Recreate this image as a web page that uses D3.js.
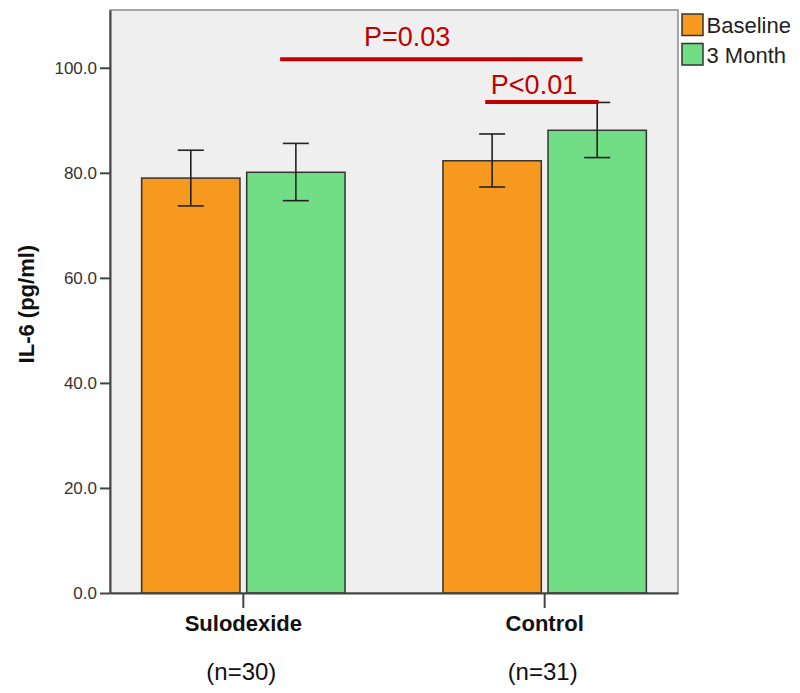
<!DOCTYPE html>
<html>
<head>
<meta charset="utf-8">
<script src="https://cdn.jsdelivr.net/npm/d3@7"></script>
<style>
  body { margin: 0; background: #fff; }
  svg { font-family: "Liberation Sans", Arial, sans-serif; }
</style>
</head>
<body>
<div id="chart"></div>
<script>
const groups = ["Sulodexide", "Control"];
const groupN = ["(n=30)", "(n=31)"];
const series = ["Baseline", "3 Month"];
const baselineMean = [79.0, 82.3];
const baselineLow = [73.7, 77.3];
const baselineHigh = [84.3, 87.4];
const monthMean = [80.1, 88.1];
const monthLow = [74.7, 82.9];
const monthHigh = [85.6, 93.4];
const yTicks = [0, 20, 40, 60, 80, 100];
const colors = ["#F7991F", "#71DD85"];

// significance brackets: bar to bar, fraction along each bar
const sigLabels = ["P=0.03", "P<0.01"];
const sigFrom = [["Sulodexide", "3 Month", 0.34], ["Control", "Baseline", 0.43]];
const sigTo = [["Control", "3 Month", 0.35], ["Control", "3 Month", 0.515]];
const sigLineY = [101.6, 93.5];
const sigTextY = [104.1, 95.0];
const sigTextPos = [0.42, 0.43];

const width = 800, height = 693;
const margin = { top: 10, right: 122, bottom: 100, left: 110 };

const svg = d3.select("#chart").append("svg")
    .attr("width", width)
    .attr("height", height);

const x = d3.scaleBand()
    .domain(groups)
    .range([margin.left, width - margin.right])
    .paddingInner(0.325)
    .paddingOuter(0.105);

const xs = d3.scaleBand()
    .domain(series)
    .range([0, x.bandwidth()])
    .paddingInner(0.064);

const y = d3.scaleLinear()
    .domain([0, 111])
    .range([height - margin.bottom, margin.top]);

const rows = [];
groups.forEach(function (g, i) {
    rows.push({ g: g, s: "Baseline", v: baselineMean[i], lo: baselineLow[i], hi: baselineHigh[i] });
    rows.push({ g: g, s: "3 Month", v: monthMean[i], lo: monthLow[i], hi: monthHigh[i] });
});

// plot background + frame
svg.append("rect")
    .attr("x", margin.left)
    .attr("y", margin.top)
    .attr("width", width - margin.right - margin.left)
    .attr("height", height - margin.bottom - margin.top)
    .attr("fill", "#efefef")
    .attr("stroke", "#8a8a8a")
    .attr("stroke-width", 1.5);

// bars
svg.append("g")
    .selectAll("rect")
    .data(rows)
    .join("rect")
    .attr("x", function (d) { return x(d.g) + xs(d.s); })
    .attr("y", function (d) { return y(d.v); })
    .attr("width", xs.bandwidth())
    .attr("height", function (d) { return y(0) - y(d.v); })
    .attr("fill", function (d) { return colors[series.indexOf(d.s)]; })
    .attr("stroke", "#333")
    .attr("stroke-width", 1.5);

// error bars
const eb = svg.append("g")
    .attr("stroke", "#222")
    .attr("stroke-width", 1.6)
    .selectAll("g")
    .data(rows)
    .join("g")
    .attr("transform", function (d) { return "translate(" + (x(d.g) + xs(d.s) + xs.bandwidth() / 2) + ",0)"; });
eb.append("line")
    .attr("y1", function (d) { return y(d.lo); })
    .attr("y2", function (d) { return y(d.hi); });
eb.append("line")
    .attr("x1", -13).attr("x2", 13)
    .attr("y1", function (d) { return y(d.hi); })
    .attr("y2", function (d) { return y(d.hi); });
eb.append("line")
    .attr("x1", -13).attr("x2", 13)
    .attr("y1", function (d) { return y(d.lo); })
    .attr("y2", function (d) { return y(d.lo); });

// y axis
const yAxis = svg.append("g")
    .attr("transform", "translate(" + margin.left + ",0)")
    .call(d3.axisLeft(y).tickValues(yTicks).tickFormat(d3.format(".1f")).tickSize(10).tickSizeOuter(0).tickPadding(3));
yAxis.select(".domain").attr("stroke", "#444").attr("stroke-width", 2);
yAxis.selectAll(".tick line").attr("stroke", "#444").attr("stroke-width", 2);
yAxis.selectAll(".tick text")
    .attr("font-size", 17)
    .attr("font-family", "Liberation Sans, Arial, sans-serif")
    .attr("fill", "#333");

// x axis
const xAxis = svg.append("g")
    .attr("transform", "translate(0," + y(0) + ")")
    .call(d3.axisBottom(x).tickSize(15).tickSizeOuter(0).tickPadding(7));
xAxis.select(".domain").attr("stroke", "#444").attr("stroke-width", 2);
xAxis.selectAll(".tick line").attr("stroke", "#444").attr("stroke-width", 2);
xAxis.selectAll(".tick text")
    .attr("font-size", 22)
    .attr("font-weight", "bold")
    .attr("font-family", "Liberation Sans, Arial, sans-serif")
    .attr("fill", "#111");

// n labels
svg.append("g")
    .selectAll("text")
    .data(groups)
    .join("text")
    .attr("x", function (d) { return x(d) + x.bandwidth() / 2 - 2; })
    .attr("y", 680)
    .attr("text-anchor", "middle")
    .attr("font-size", 24)
    .attr("fill", "#111")
    .text(function (d, i) { return groupN[i]; });

// y axis title
svg.append("text")
    .attr("transform", "translate(34," + (y(55)) + ") rotate(-90)")
    .attr("text-anchor", "middle")
    .attr("font-size", 22)
    .attr("font-weight", "bold")
    .attr("fill", "#111")
    .text("IL-6 (pg/ml)");

// significance annotations
function barPos(p) {
    return x(p[0]) + xs(p[1]) + p[2] * xs.bandwidth();
}
const sig = svg.append("g");
sigLabels.forEach(function (lab, i) {
    const x1 = barPos(sigFrom[i]), x2 = barPos(sigTo[i]);
    sig.append("line")
        .attr("x1", x1).attr("x2", x2)
        .attr("y1", y(sigLineY[i])).attr("y2", y(sigLineY[i]))
        .attr("stroke", "#C00000")
        .attr("stroke-width", 4);
    sig.append("text")
        .attr("x", x1 + (x2 - x1) * sigTextPos[i])
        .attr("y", y(sigTextY[i]))
        .attr("text-anchor", "middle")
        .attr("font-size", 27)
        .attr("fill", "#C00000")
        .text(lab);
});

// legend
const legend = svg.append("g")
    .attr("transform", "translate(682,14)");
const li = legend.selectAll("g")
    .data(series)
    .join("g")
    .attr("transform", function (d, i) { return "translate(0," + (i * 29.5) + ")"; });
li.append("rect")
    .attr("width", 21)
    .attr("height", 21.5)
    .attr("fill", function (d, i) { return colors[i]; })
    .attr("stroke", "#333")
    .attr("stroke-width", 1.5);
li.append("text")
    .attr("x", 24.5)
    .attr("y", 19)
    .attr("font-size", 22)
    .attr("fill", "#222")
    .text(function (d) { return d; });
</script>
</body>
</html>
